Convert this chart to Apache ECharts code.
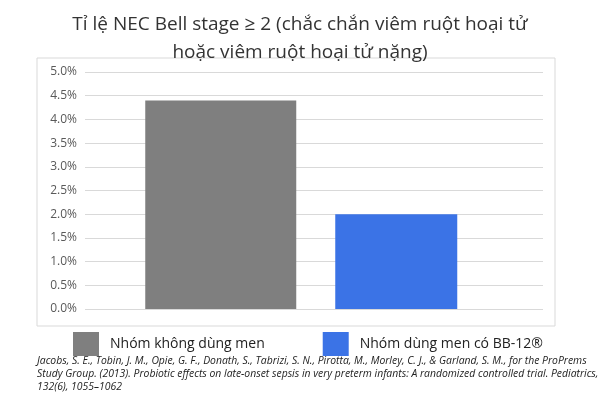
<!DOCTYPE html>
<html><head><meta charset="utf-8">
<script src="https://cdn.jsdelivr.net/npm/echarts@6/dist/echarts.min.js"></script>
<style>body{margin:0}#c{width:600px;height:400px}</style></head>
<body><div id="c"></div>
<script>
var seriesNames = ['Nhóm không dùng men', 'Nhóm dùng men có BB-12®'];
var values = [4.4, 2.0];
var colors = ['#7f7f7f', '#3b73e6'];

var chart = echarts.init(document.getElementById('c'));
var yAxisBase = { type: 'value', min: 0, max: 5, interval: 0.5 };
chart.setOption({
  title: {
    text: 'Tỉ lệ NEC Bell stage ≥ 2 (chắc chắn viêm ruột hoại tử\nhoặc viêm ruột hoại tử nặng)',
    left: 'center', top: 6,
    textStyle: { fontFamily: 'Open Sans', fontWeight: 'normal', fontSize: 19, color: '#333', lineHeight: 28 }
  },
  legend: {
    data: seriesNames, top: 332, left: 73, padding: 0, orient: 'horizontal', itemGap: 58,
    icon: 'rect', itemWidth: 26, itemHeight: 24,
    textStyle: { fontFamily: 'Open Sans', fontSize: 14, color: '#222', padding: [0, 0, 0, 6] }
  },
  graphic: [
    { type: 'rect', shape: { x: 37, y: 58, width: 518, height: 268 }, style: { fill: 'none', stroke: '#d9d9d9', lineWidth: 1 }, z: -1 },
    { type: 'text', left: 37, top: 355, style: {
      text: 'Jacobs, S. E., Tobin, J. M., Opie, G. F., Donath, S., Tabrizi, S. N., Pirotta, M., Morley, C. J., & Garland, S. M., for the ProPrems\nStudy Group. (2013). Probiotic effects on late-onset sepsis in very preterm infants: A randomized controlled trial. Pediatrics,\n132(6), 1055–1062',
      fontFamily: 'Open Sans', fontStyle: 'italic', fontSize: 10.4, lineHeight: 13, fill: '#222' } }
  ],
  grid: [
    { left: 85, right: 57, top: 72, bottom: 91 },
    { left: 133, right: 116, top: 72, bottom: 91 }
  ],
  xAxis: [
    { type: 'category', gridIndex: 0, data: ['a'], show: false },
    { type: 'category', gridIndex: 1, data: ['a', 'b'], show: false },
    { type: 'category', gridIndex: 1, data: ['a', 'b'], show: false }
  ],
  yAxis: [
    Object.assign({ gridIndex: 0,
      axisLine: { show: false }, axisTick: { show: false },
      axisLabel: { formatter: function (v) { return v.toFixed(1) + '%'; }, color: '#595959', fontFamily: 'Open Sans', fontSize: 12 },
      splitLine: { lineStyle: { color: '#d9d9d9' } } }, yAxisBase),
    Object.assign({ gridIndex: 1, show: false }, yAxisBase)
  ],
  series: [
    { name: seriesNames[0], type: 'bar', xAxisIndex: 1, yAxisIndex: 1, barWidth: 151,
      data: [values[0], '-'], itemStyle: { color: colors[0] } },
    { name: seriesNames[1], type: 'bar', xAxisIndex: 2, yAxisIndex: 1, barWidth: 122,
      data: ['-', values[1]], itemStyle: { color: colors[1] } }
  ]
});
</script></body></html>
